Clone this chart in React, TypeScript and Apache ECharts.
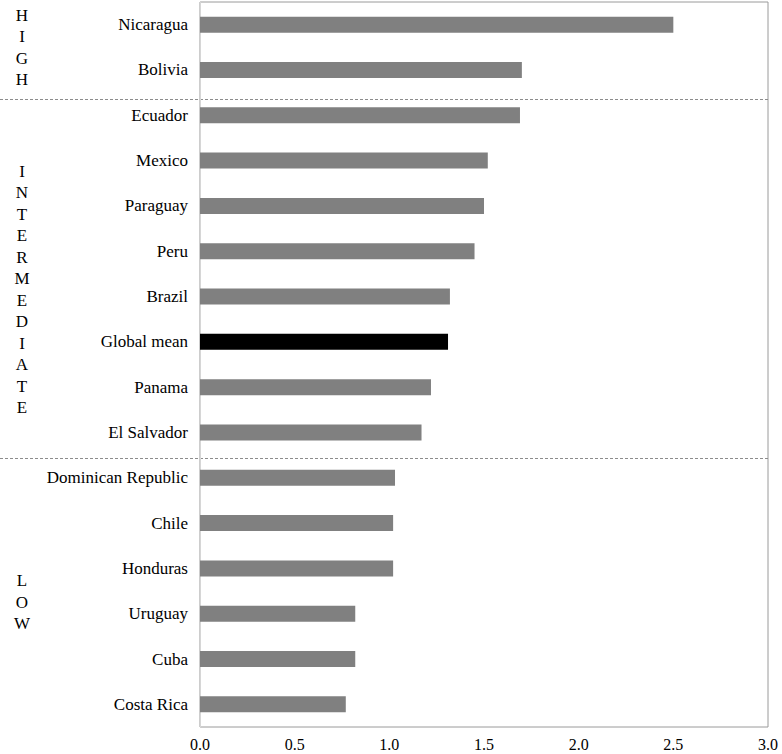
import React, { useEffect, useRef } from "react";
import * as echarts from "echarts";

const categories = [
  "Nicaragua", "Bolivia", "Ecuador", "Mexico", "Paraguay", "Peru", "Brazil",
  "Global mean", "Panama", "El Salvador", "Dominican Republic", "Chile",
  "Honduras", "Uruguay", "Cuba", "Costa Rica",
];
const values = [2.5, 1.7, 1.69, 1.52, 1.5, 1.45, 1.32, 1.31, 1.22, 1.17, 1.03, 1.02, 1.02, 0.82, 0.82, 0.77];
const highlight = "Global mean";
const xTicks = [0, 0.5, 1, 1.5, 2, 2.5, 3];
const groups = [
  { label: "HIGH", center: 0.5 },
  { label: "INTERMEDIATE", center: 5.85 },
  { label: "LOW", center: 12.75 },
];
// separator positions in category-index units
const separators = [1.64, 9.56];

const FONT = "'Liberation Serif', 'Times New Roman', serif";

export default function App() {
  const ref = useRef<HTMLDivElement>(null);
  useEffect(() => {
    if (!ref.current) return;
    const chart = echarts.init(ref.current, null, { renderer: "svg" });
    chart.setOption({
      animation: false,
      grid: {
        left: 200, right: 14, top: 2, bottom: 27,
        show: true, borderColor: "#9a9a9a", borderWidth: 1,
      },
      xAxis: {
        type: "value", min: xTicks[0], max: xTicks[xTicks.length - 1], interval: 0.5,
        axisLine: { show: false }, axisTick: { show: false }, splitLine: { show: false },
        axisLabel: {
          color: "#000", fontFamily: FONT, fontSize: 16, margin: 9,
          formatter: (v: number) => v.toFixed(1),
        },
      },
      yAxis: {
        type: "category", data: categories, inverse: true,
        axisLine: { show: true, lineStyle: { color: "#d6d6d6" } },
        axisTick: { show: false },
        axisLabel: { color: "#000", fontFamily: FONT, fontSize: 17, margin: 12 },
      },
      series: [{
        type: "bar",
        barWidth: 16,
        data: values.map((v, i) => ({
          value: v,
          itemStyle: { color: categories[i] === highlight ? "#000000" : "#808080" },
        })),
      }],
    });

    const yOf = (c: string) => chart.convertToPixel({ yAxisIndex: 0 }, c) as number;
    const y0 = yOf(categories[0]);
    const step = yOf(categories[1]) - y0;
    const right = chart.getWidth() - 14;
    const graphics: any[] = [];
    separators.forEach((pos) => {
      const y = Math.round(y0 + pos * step) + 0.5;
      graphics.push({
        type: "line", silent: true,
        shape: { x1: 0, y1: y, x2: right, y2: y },
        style: { stroke: "#8c8c8c", lineWidth: 1, lineDash: [3, 2] },
      });
    });
    groups.forEach((g) => {
      graphics.push({
        type: "text",
        x: 22, y: y0 + g.center * step,
        style: {
          text: g.label.split("").join("\n"),
          fontFamily: FONT, fontSize: 17, lineHeight: 21.5,
          fill: "#000", align: "center", verticalAlign: "middle",
        },
      });
    });
    chart.setOption({ graphic: graphics });
    return () => chart.dispose();
  }, []);
  return <div ref={ref} style={{ width: 782, height: 754, position: "absolute", left: 0, top: 0 }} />;
}
